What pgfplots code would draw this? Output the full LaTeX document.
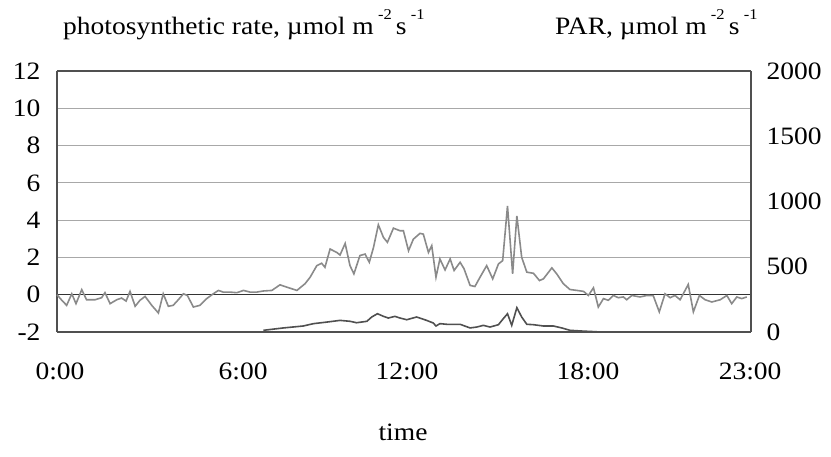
\documentclass[border=0pt]{standalone}
\usepackage{pgfplots}
\pgfplotsset{compat=1.18}
\usepackage{fontspec}
\setmainfont[FakeStretch=1.1]{Liberation Serif}
\definecolor{psline}{HTML}{8A8A8A}
\definecolor{parline}{HTML}{505050}
\definecolor{gridc}{HTML}{A8A8A8}
\definecolor{framec}{HTML}{505050}
\newcommand{\unitsup}[1]{\,\raisebox{0.62em}{\fontsize{15bp}{15bp}\selectfont #1}\,}
\begin{document}
\fontsize{25bp}{30bp}\selectfont
\begin{tikzpicture}
\useasboundingbox (-57bp,-125bp) rectangle (774bp,332bp);
\begin{axis}[
  scale only axis, width=694bp, height=261bp,
  xmin=0, xmax=23, ymin=-2, ymax=12,
  axis line style={framec, line width=1.3bp},
  axis y line*=left, axis x line*=box,
  xtick={0.1,6.17,11.6,17.6,22.97},
  xticklabels={0:00,6:00,12:00,18:00,23:00},
  ytick={-2,0,2,4,6,8,10,12},
  yticklabels={-2,0,2,4,6,8,10,12},
  major tick length=0pt,
  ymajorgrids, grid style={gridc, line width=0.9bp},
  extra y ticks={0}, extra y tick labels={},
  extra y tick style={grid style={black!80, line width=1.2bp}},
  tick label style={font=\fontsize{25bp}{30bp}\selectfont},
  xticklabel style={yshift=-22bp},
  yticklabel style={xshift=-8bp},
  clip=false,
]
\addplot[psline, line width=1.6bp] coordinates {
(0.00,0.00)(0.16,-0.30)(0.32,-0.57)(0.49,0.05)(0.63,-0.48)(0.82,0.27)(0.98,-0.27)
(1.26,-0.27)(1.48,-0.16)(1.59,0.11)(1.76,-0.48)(1.98,-0.27)(2.14,-0.18)(2.29,-0.34)
(2.42,0.18)(2.59,-0.62)(2.75,-0.30)(2.92,-0.09)(3.14,-0.57)(3.36,-0.98)(3.52,0.05)
(3.69,-0.62)(3.85,-0.57)(4.02,-0.27)(4.19,0.05)(4.32,-0.04)(4.52,-0.66)(4.74,-0.57)
(4.96,-0.21)(5.18,0.05)(5.35,0.23)(5.51,0.14)(5.73,0.14)(5.96,0.11)(6.18,0.23)
(6.40,0.14)(6.62,0.14)(6.84,0.20)(7.12,0.23)(7.39,0.53)(7.61,0.41)(7.95,0.23)
(8.22,0.59)(8.39,0.94)(8.61,1.56)(8.77,1.69)(8.88,1.47)(9.05,2.45)(9.27,2.27)
(9.38,2.13)(9.55,2.75)(9.71,1.56)(9.84,1.12)(10.04,2.10)(10.21,2.18)(10.35,1.74)
(10.49,2.54)(10.65,3.75)(10.82,3.07)(10.95,2.81)(11.15,3.57)(11.37,3.43)(11.48,3.43)
(11.65,2.36)(11.81,2.98)(12.03,3.29)(12.14,3.25)(12.31,2.27)(12.42,2.63)(12.56,0.94)
(12.69,1.92)(12.86,1.33)(13.03,1.92)(13.16,1.30)(13.36,1.74)(13.49,1.39)(13.69,0.50)
(13.85,0.44)(14.02,0.94)(14.24,1.56)(14.44,0.85)(14.63,1.65)(14.77,1.83)(14.93,4.76)
(15.10,1.12)(15.24,4.23)(15.40,2.01)(15.57,1.21)(15.79,1.15)(15.99,0.76)(16.12,0.85)
(16.40,1.44)(16.56,1.12)(16.78,0.59)(17.00,0.28)(17.23,0.23)(17.45,0.18)(17.61,-0.04)
(17.78,0.37)(17.94,-0.66)(18.11,-0.21)(18.27,-0.30)(18.44,-0.04)(18.60,-0.16)(18.77,-0.12)
(18.88,-0.27)(19.05,-0.04)(19.32,-0.12)(19.55,-0.04)(19.76,-0.05)(19.96,-0.92)(20.15,0.05)
(20.32,-0.16)(20.48,-0.04)(20.65,-0.27)(20.92,0.55)(21.09,-0.92)(21.29,-0.04)(21.48,-0.27)
(21.70,-0.39)(21.98,-0.27)(22.20,-0.04)(22.36,-0.48)(22.53,-0.12)(22.69,-0.21)(22.86,-0.12)
};
\end{axis}
\begin{axis}[
  scale only axis, width=694bp, height=261bp,
  xmin=0, xmax=23, ymin=0, ymax=2000,
  axis y line*=right, axis x line=none,
  axis line style={framec, line width=1.3bp},
  ytick={0,500,1000,1500,2000},
  yticklabels={0,500,1000,1500,2000},
  major tick length=0pt,
  tick label style={font=\fontsize{25bp}{30bp}\selectfont},
  yticklabel style={xshift=7bp},
  clip=false,
]
\addplot[parline, line width=1.6bp] coordinates {
(6.84,13)(7.50,31)(8.16,46)(8.50,64)(8.94,76)(9.38,89)(9.71,82)(9.93,71)(10.27,82)
(10.43,115)(10.62,140)(10.82,120)(10.98,107)(11.20,120)(11.37,107)(11.59,94)(11.92,115)
(12.25,89)(12.47,69)(12.56,46)(12.69,64)(12.92,59)(13.36,59)(13.69,31)(13.91,38)
(14.13,51)(14.35,38)(14.63,56)(14.79,102)(14.93,140)(15.07,51)(15.24,186)(15.40,115)
(15.57,59)(15.79,56)(16.12,46)(16.45,46)(16.73,31)(17.00,13)(17.34,8)(17.78,3)(18.00,0)
};
\end{axis}
\node[anchor=base west, inner sep=0pt] at (6bp,297bp)
  {photosynthetic rate, µmol m\unitsup{-2}s\unitsup{-1}};
\node[anchor=base west, inner sep=0pt] at (498bp,297bp)
  {PAR, µmol m\unitsup{-2}s\unitsup{-1}};
\node[anchor=base, inner sep=0pt] at (346bp,-108bp) {time};
\end{tikzpicture}
\end{document}
